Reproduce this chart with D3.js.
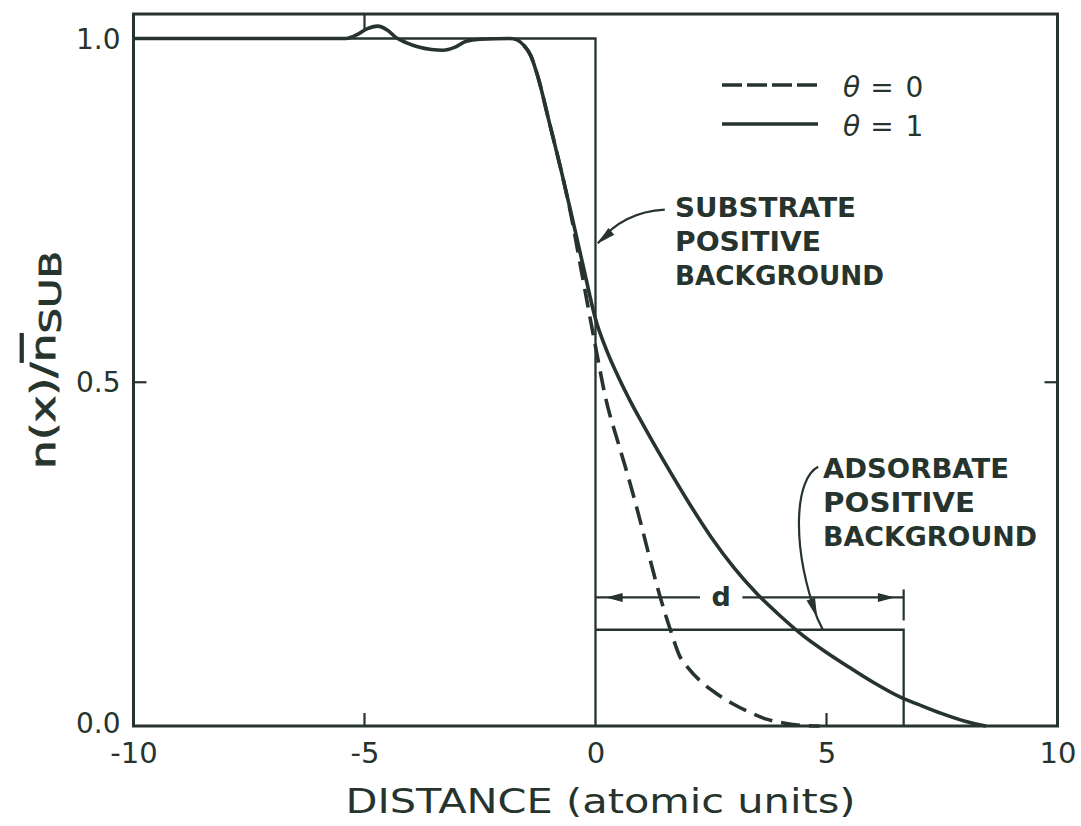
<!DOCTYPE html>
<html><head><meta charset="utf-8">
<script src="https://cdn.jsdelivr.net/npm/d3@7"></script>
<style>body{margin:0;background:#fff}svg{display:block}</style>
</head><body><svg id="c" width="1081" height="826"></svg>
<script>
// ---- data ----
const xTickValues = [-10, -5, 0, 5, 10];
const xTickLabels = ["-10", "-5", "0", "5", "10"];
const yTickValues = [0, 0.5, 1.0];
const yTickLabels = ["0.0", "0.5", "1.0"];

// theta = 1 (solid)
const theta1X = [-10, -5.6, -5.4, -5.15, -4.95, -4.72, -4.5, -4.33, -4.1, -3.85, -3.55, -3.3, -3.05, -2.8, -2.5, -1.85, -1.7, -1.55, -1.4, -1.25, -1.0, -0.75, -0.5, -0.25, 0, 0.25, 0.5, 0.75, 1.0, 1.5, 2.0, 2.5, 3.0, 3.5, 4.0, 4.5, 5.0, 5.5, 6.0, 6.6, 7.0, 7.5, 8.0, 8.45];
const theta1Y = [1.0, 1.0, 1.0, 1.006, 1.014, 1.018, 1.012, 1.002, 0.994, 0.988, 0.984, 0.983, 0.987, 0.996, 0.999, 1.0, 0.998, 0.99, 0.975, 0.945, 0.878, 0.81, 0.738, 0.664, 0.592, 0.545, 0.507, 0.473, 0.442, 0.383, 0.327, 0.275, 0.23, 0.192, 0.16, 0.131, 0.107, 0.085, 0.064, 0.042, 0.031, 0.018, 0.007, 0.0];
// theta = 0 (dashed)
const theta0X = [-1.55, -1.4, -1.25, -1.0, -0.75, -0.55, -0.3, 0, 0.23, 0.5, 0.74, 1.0, 1.17, 1.39, 1.64, 1.82, 2.0, 2.26, 2.6, 2.98, 3.3, 3.7, 4.1, 4.45, 4.85];
const theta0Y = [0.99, 0.975, 0.945, 0.878, 0.81, 0.75, 0.66, 0.552, 0.474, 0.41, 0.355, 0.29, 0.245, 0.19, 0.136, 0.102, 0.085, 0.066, 0.048, 0.032, 0.021, 0.01, 0.004, 0.001, 0.0];

// positive backgrounds
const substrateX = [-10, 0, 0];
const substrateY = [1.0, 1.0, 0.0];
const adsorbateX = [0, 6.67, 6.67];
const adsorbateY = [0.14, 0.14, 0.0];
const dWidth = 6.67;
const dLevel = 0.187;

const legendNames = ["0", "1"];

// ---- drawing ----
const ink = "#26342d";
const font = "'DejaVu Sans', sans-serif";
const svg = d3.select("#c");
svg.append("rect").attr("width", 1081).attr("height", 826).attr("fill", "#fff");

const x = d3.scaleLinear().domain([-10, 10]).range([133.5, 1057.5]);
const y = d3.scaleLinear().domain([0, 1]).range([726, 38.5]);
const yTop = 1.0356;

// frame
svg.append("rect")
  .attr("x", x(-10)).attr("y", y(yTop))
  .attr("width", x(10) - x(-10)).attr("height", y(0) - y(yTop))
  .attr("fill", "none").attr("stroke", ink).attr("stroke-width", 3);

// inner ticks
const tk = 13;
const ticks = svg.append("g").attr("stroke", ink).attr("stroke-width", 2.2);
[-5, 5].forEach(v => ticks.append("line").attr("x1", x(v)).attr("x2", x(v)).attr("y1", y(0)).attr("y2", y(0) - tk));
[-5].forEach(v => ticks.append("line").attr("x1", x(v)).attr("x2", x(v)).attr("y1", y(yTop)).attr("y2", y(yTop) + 16));
[0.5].forEach(v => {
  ticks.append("line").attr("x1", x(-10)).attr("x2", x(-10) + tk).attr("y1", y(v)).attr("y2", y(v));
  ticks.append("line").attr("x1", x(10)).attr("x2", x(10) - tk).attr("y1", y(v)).attr("y2", y(v));
});

// axes labels via d3 axes
const xa = svg.append("g").attr("transform", `translate(0,${y(0)})`)
  .call(d3.axisBottom(x).tickValues(xTickValues).tickFormat((d, i) => xTickLabels[i]).tickSize(0).tickPadding(37));
xa.select(".domain").remove();
xa.selectAll("text").attr("font-family", font).attr("font-size", 29).attr("fill", ink).attr("dy", "0");

const ya = svg.append("g").attr("transform", `translate(${x(-10)},0)`)
  .call(d3.axisLeft(y).tickValues(yTickValues).tickFormat((d, i) => yTickLabels[i]).tickSize(0).tickPadding(13));
ya.select(".domain").remove();
ya.selectAll("text").attr("font-family", font).attr("font-size", 28).attr("fill", ink).attr("dy", "0.34em");
ya.selectAll("text").filter((d) => d === 0).attr("dy", "0.22em");

// axis titles
svg.append("text").attr("x", (x(-10) + x(10)) / 2 + 5).attr("y", 813)
  .attr("text-anchor", "middle").attr("font-family", font).attr("font-size", 34).attr("fill", ink)
  .attr("textLength", 510).attr("lengthAdjust", "spacingAndGlyphs")
  .text("DISTANCE (atomic units)");

const yt = svg.append("text").attr("transform", "translate(55,360) rotate(-90)")
  .attr("text-anchor", "middle").attr("font-family", font).attr("font-size", 34).attr("fill", ink)
  .attr("stroke", ink).attr("stroke-width", 0.8)
  .attr("textLength", 218).attr("lengthAdjust", "spacingAndGlyphs");
yt.append("tspan").text("n(x)/");
yt.append("tspan").style("text-decoration", "overline").text("n");
yt.append("tspan").attr("dy", 6).attr("font-size", 30).text("SUB");

// backgrounds (boxes)
const boxLine = d3.line().x(d => x(d[0])).y(d => y(d[1]));
svg.append("path").attr("d", boxLine(substrateX.map((v, i) => [v, substrateY[i]])))
  .attr("fill", "none").attr("stroke", ink).attr("stroke-width", 2.3);
svg.append("path").attr("d", boxLine(adsorbateX.map((v, i) => [v, adsorbateY[i]])))
  .attr("fill", "none").attr("stroke", ink).attr("stroke-width", 2.3);

// curves
const curve = d3.line().x(d => x(d[0])).y(d => y(d[1])).curve(d3.curveMonotoneX);
svg.append("path").attr("d", curve(theta1X.map((v, i) => [v, theta1Y[i]])))
  .attr("fill", "none").attr("stroke", ink).attr("stroke-width", 3.6).attr("stroke-linejoin", "round");
svg.append("path").attr("d", curve(theta0X.map((v, i) => [v, theta0Y[i]])))
  .attr("fill", "none").attr("stroke", ink).attr("stroke-width", 3.6).attr("stroke-dasharray", "19,9");

// arrowhead helper
function head(tx, ty, dx, dy, len = 17, w = 4.5) {
  const L = Math.hypot(dx, dy), ux = dx / L, uy = dy / L;
  const bx = tx - ux * len, by = ty - uy * len;
  return `M${tx},${ty}L${bx - uy * w},${by + ux * w}L${bx + uy * w},${by - ux * w}Z`;
}

// d dimension line
const dY = y(dLevel);
const dg = svg.append("g").attr("stroke", ink).attr("stroke-width", 2.2);
dg.append("line").attr("x1", x(0)).attr("x2", x(2.26)).attr("y1", dY).attr("y2", dY);
dg.append("line").attr("x1", x(3.18)).attr("x2", x(dWidth)).attr("y1", dY).attr("y2", dY);
dg.append("line").attr("x1", x(dWidth)).attr("x2", x(dWidth)).attr("y1", dY - 8).attr("y2", dY + 23);
svg.append("path").attr("d", head(x(0.22), dY, -1, 0)).attr("fill", ink);
svg.append("path").attr("d", head(x(6.48), dY, 1, 0)).attr("fill", ink);
svg.append("text").attr("x", x(2.72)).attr("y", dY + 9).attr("text-anchor", "middle")
  .attr("font-family", font).attr("font-size", 27).attr("font-weight", "bold").attr("fill", ink).text("d");

// annotation text
function block(lines, x0, y0, widths) {
  lines.forEach((t, i) => {
    svg.append("text").attr("x", x0).attr("y", y0 + i * 34)
      .attr("font-family", font).attr("font-size", 26).attr("font-weight", "bold").attr("fill", ink)
      .attr("textLength", widths[i]).attr("lengthAdjust", "spacingAndGlyphs").text(t);
  });
}
block(["SUBSTRATE", "POSITIVE", "BACKGROUND"], 675, 217, [181, 146, 209]);
block(["ADSORBATE", "POSITIVE", "BACKGROUND"], 823, 478, [186, 152, 214]);

// substrate arrow
const sp = d3.path();
sp.moveTo(x(1.5), y(0.751));
sp.quadraticCurveTo(x(0.6), y(0.748), x(0.05), y(0.702));
svg.append("path").attr("d", sp.toString()).attr("fill", "none").attr("stroke", ink).attr("stroke-width", 2.2);
svg.append("path").attr("d", head(x(0.05), y(0.702), -0.75, 0.66, 18, 4.5)).attr("fill", ink);

// adsorbate arrow
const ap = d3.path();
ap.moveTo(x(4.82), y(0.377));
ap.bezierCurveTo(x(4.32), y(0.36), x(4.22), y(0.265), x(4.8), y(0.157));
ap.lineTo(x(4.92), y(adsorbateY[1]));
svg.append("path").attr("d", ap.toString()).attr("fill", "none").attr("stroke", ink).attr("stroke-width", 2.2);
svg.append("path").attr("d", head(x(4.8), y(0.157), 0.33, 0.96, 20, 4.5)).attr("fill", ink);

// legend
const lg = svg.append("g");
[85, 124].forEach((ly, i) => {
  lg.append("line").attr("x1", 722).attr("x2", 818).attr("y1", ly).attr("y2", ly)
    .attr("stroke", ink).attr("stroke-width", 3.6)
    .attr("stroke-dasharray", i === 0 ? "20,5" : null);
  const t = lg.append("text").attr("x", 843).attr("y", ly + 12)
    .attr("font-family", font).attr("font-size", 28).attr("fill", ink);
  t.append("tspan").attr("font-style", "italic").text("θ");
  t.append("tspan").attr("dx", 10).text("=");
  t.append("tspan").attr("dx", 12).text(legendNames[i]);
});
</script>
</body></html>
